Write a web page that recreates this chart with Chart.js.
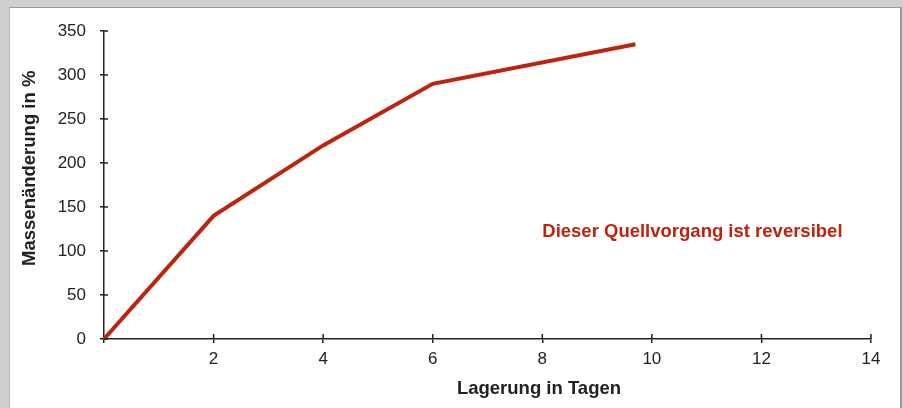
<!DOCTYPE html>
<html>
<head>
<meta charset="utf-8">
<script src="https://cdn.jsdelivr.net/npm/chart.js@4"></script>
<style>
  html, body { margin: 0; padding: 0; }
  body { width: 903px; height: 408px; background: #cfcfcf; position: relative; overflow: hidden; }
  #panel { position: absolute; left: 9px; top: 7px; width: 890px; height: 410px; background: #fff;
           border-top: 1px solid #9a9a9a; border-left: 1px solid #b8b8b8; border-right: 2px solid #9a9a9a; }
  #chart { position: absolute; left: 0; top: 0; }
</style>
</head>
<body>
<div id="panel"></div>
<canvas id="chart" width="903" height="408"></canvas>
<script>
// Messwerte: Lagerung (Tage) -> Massenänderung (%)
const days = [0, 2, 4, 6, 9.7];
const massChange = [0, 140, 220, 290, 335];
const xTicks = [2, 4, 6, 8, 10, 12, 14];
const yTicks = [0, 50, 100, 150, 200, 250, 300, 350];
const note = 'Dieser Quellvorgang ist reversibel';
const notePos = [8.0, 122]; // in Datenkoordinaten
const xTitle = 'Lagerung in Tagen';
const yTitle = 'Massenänderung in %';

const FONT = '"Liberation Sans", Helvetica, Arial, sans-serif';
const INK = '#222';
const RED = '#bd2410';

// kleine Striche auf der Innenseite der Achsen, Achsentitel und Hinweistext
const extras = {
    id: 'extras',
    afterDraw(chart) {
        const ctx = chart.ctx;
        const x = chart.scales.x, y = chart.scales.y;
        ctx.save();
        ctx.strokeStyle = INK;
        ctx.lineWidth = 1.5;
        ctx.beginPath();
        for (const v of xTicks) {
            const px = x.getPixelForValue(v);
            ctx.moveTo(px, y.bottom);
            ctx.lineTo(px, y.bottom - 5);
        }
        for (const v of yTicks) {
            const py = y.getPixelForValue(v);
            ctx.moveTo(x.left, py);
            ctx.lineTo(x.left + 4, py);
        }
        ctx.stroke();

        ctx.textBaseline = 'middle';
        ctx.font = 'bold 18.5px ' + FONT;

        // Achsentitel (im Original nicht mittig zur Achse)
        ctx.fillStyle = INK;
        ctx.textAlign = 'center';
        ctx.fillText(xTitle, x.getPixelForValue(7.94), 389);
        ctx.save();
        ctx.translate(30, y.getPixelForValue(194));
        ctx.rotate(-Math.PI / 2);
        ctx.fillText(yTitle, 0, 0);
        ctx.restore();

        ctx.fillStyle = RED;
        ctx.textAlign = 'left';
        ctx.fillText(note, x.getPixelForValue(notePos[0]), y.getPixelForValue(notePos[1]));
        ctx.restore();
    }
};

new Chart(document.getElementById('chart'), {
    type: 'line',
    data: {
        datasets: [{
            data: days.map((d, i) => ({ x: d, y: massChange[i] })),
            borderColor: RED,
            borderWidth: 4,
            pointRadius: 0,
            tension: 0,
            clip: false
        }]
    },
    options: {
        responsive: false,
        devicePixelRatio: 1,
        animation: false,
        events: [],
        layout: { padding: { left: 0, right: 32, top: 31, bottom: 0 } },
        plugins: { legend: { display: false }, tooltip: { enabled: false } },
        scales: {
            x: {
                type: 'linear',
                min: 0, max: 14,
                afterFit(s) { s.height = 69; },
                afterBuildTicks(s) { s.ticks = [0].concat(xTicks).map(v => ({ value: v })); },
                border: { display: true, color: INK, width: 1.5 },
                grid: { drawOnChartArea: false, drawTicks: true, tickLength: 4, color: INK, lineWidth: 1.5 },
                ticks: {
                    color: INK, padding: 6,
                    font: { family: FONT, size: 17 },
                    callback: v => v === 0 ? '' : v
                },
                title: { display: false }
            },
            y: {
                min: 0, max: 350,
                afterFit(s) { s.width = 104; },
                afterBuildTicks(s) { s.ticks = yTicks.map(v => ({ value: v })); },
                border: { display: true, color: INK, width: 1.5 },
                grid: { drawOnChartArea: false, drawTicks: true, tickLength: 4, color: INK, lineWidth: 1.5 },
                ticks: {
                    color: INK, padding: 14,
                    font: { family: FONT, size: 17 }
                },
                title: { display: false }
            }
        }
    },
    plugins: [extras]
});
</script>
</body>
</html>
